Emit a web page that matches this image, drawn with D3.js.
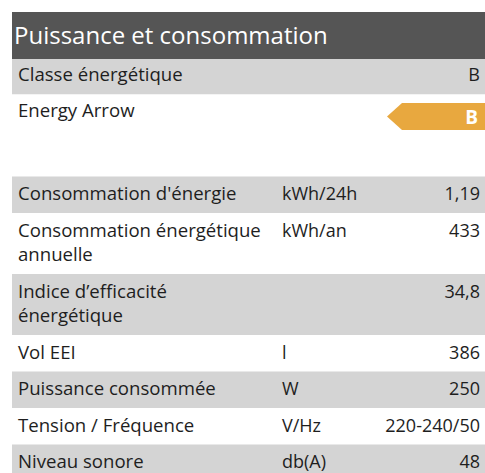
<!DOCTYPE html>
<meta charset="utf-8">
<html lang="fr">
  <head>
    <style>
      body { margin: 0; background-color: #fff; }
      text { font-family: "Open Sans", sans-serif; }
      .label { font-size: 18px; fill: #1e1e1e; }
      .name { font-size: 18.6px; }
      .title { font-size: 24px; fill: #fff; }
    </style>
  </head>
  <body>
    <svg></svg>
    <script src="https://cdn.jsdelivr.net/npm/d3@7"></script>
    <script>

      var width = 485,
        height = 473;

      var sectionTitle = "Puissance et consommation";
      var classLabels = ["Classe énergétique", "Energy Arrow"];
      var energyClass = "B";

      var specLabels = [
        ["Consommation d'énergie"],
        ["Consommation énergétique", "annuelle"],
        ["Indice d’efficacité", "énergétique"],
        ["Vol EEI"],
        ["Puissance consommée"],
        ["Tension / Fréquence"],
        ["Niveau sonore"]
      ];
      var specUnits = ["kWh/24h", "kWh/an", "", "l", "W", "V/Hz", "db(A)"];
      var specValues = ["1,19", "433", "34,8", "386", "250", "220-240/50", "48"];

      var svg = d3.select("svg")
        .attr("width", width)
        .attr("height", height);

      var left = 12, right = width, textX = 18, unitX = 282, valueX = 480;
      var grey = "#d4d4d4";

      // header
      svg.append("rect")
        .attr("x", left).attr("y", 12)
        .attr("width", right - left).attr("height", 47)
        .attr("fill", "#555555");
      svg.append("text")
        .attr("class", "title")
        .attr("x", 14).attr("y", 44)
        .text(sectionTitle);

      // class rows
      var classY = d3.scaleBand()
        .domain(classLabels)
        .range([59, 130]);

      var cls = svg.selectAll(".cls")
        .data(classLabels)
        .enter().append("g")
        .attr("class", "cls")
        .attr("transform", function(d) { return "translate(0," + classY(d) + ")"; });

      cls.append("rect")
        .attr("x", left)
        .attr("width", right - left)
        .attr("height", classY.bandwidth())
        .attr("fill", function(d, i) { return i % 2 == 0 ? grey : "#fff"; });

      cls.append("text")
        .attr("class", "label name")
        .attr("x", textX)
        .attr("y", 22)
        .text(function(d) { return d; });

      svg.append("text")
        .attr("class", "label")
        .attr("x", valueX).attr("y", classY(classLabels[0]) + 22)
        .attr("text-anchor", "end")
        .text(energyClass);

      // energy arrow
      var ay = 103, ah = 27;
      svg.append("path")
        .attr("d", d3.line()([[387, ay + ah / 2], [402, ay], [right, ay], [right, ay + ah], [402, ay + ah]]) + "Z")
        .attr("fill", "#e8a83f");
      svg.append("text")
        .attr("x", 478).attr("y", ay + 21)
        .attr("text-anchor", "end")
        .attr("font-size", "19px")
        .attr("font-weight", "bold")
        .attr("fill", "#fff")
        .text(energyClass);

      // spec rows
      var lineH = 24.5, rowBase = 36.5;
      var tops = [];
      var y = 176.5;
      specLabels.forEach(function(d) {
        tops.push(y);
        y += rowBase + lineH * (d.length - 1);
      });

      var rows = svg.selectAll(".spec")
        .data(specLabels)
        .enter().append("g")
        .attr("class", "spec")
        .attr("transform", function(d, i) { return "translate(0," + tops[i] + ")"; });

      rows.append("rect")
        .attr("x", left)
        .attr("width", right - left)
        .attr("height", function(d) { return rowBase + lineH * (d.length - 1); })
        .attr("fill", function(d, i) { return i % 2 == 0 ? grey : "#fff"; });

      rows.each(function(d, i) {
        var g = d3.select(this);
        var off = 23.5;
        d.forEach(function(line, j) {
          g.append("text")
            .attr("class", "label name")
            .attr("x", textX)
            .attr("y", off + j * 24)
            .text(line);
        });
        g.append("text")
          .attr("class", "label")
          .attr("x", unitX).attr("y", off)
          .text(specUnits[i]);
        g.append("text")
          .attr("class", "label")
          .attr("x", valueX).attr("y", off)
          .attr("text-anchor", "end")
          .text(specValues[i]);
      });

    </script>
  </body>
</html>
